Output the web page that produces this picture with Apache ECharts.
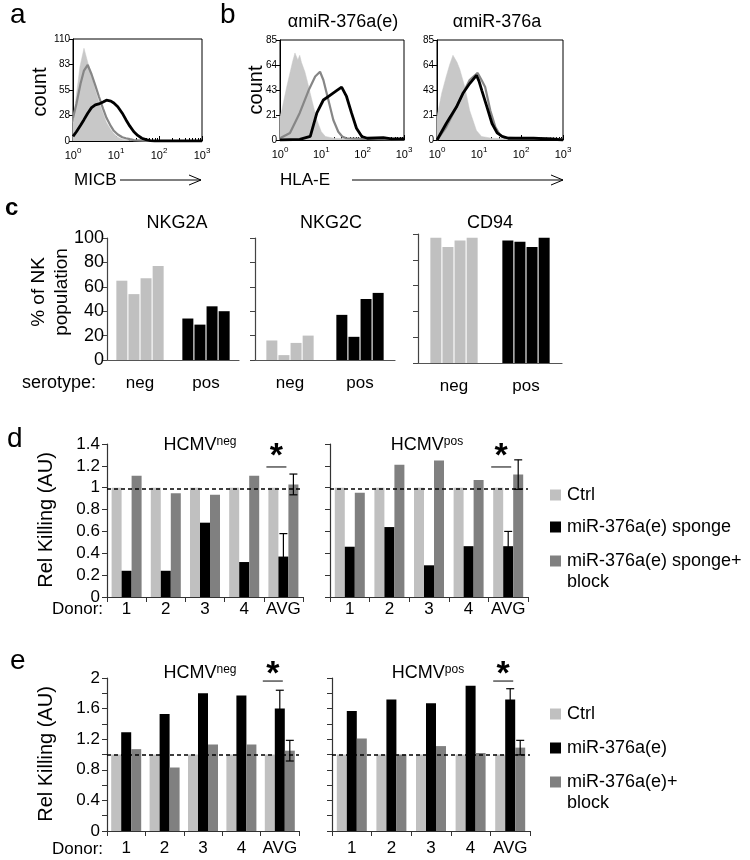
<!DOCTYPE html>
<html><head><meta charset="utf-8">
<script src="https://cdn.jsdelivr.net/npm/echarts@6/dist/echarts.min.js"></script>
<style>html,body{margin:0;padding:0;background:#fff}#c{width:750px;height:860px}</style>
</head><body><div id="c"></div><script>
const FONT = '"Liberation Sans", Arial, Helvetica, sans-serif';
const C_LIGHT = '#c0c0c0', C_MID = '#808080', C_BLACK = '#000000';
const H_FILL = '#c8c8c8', H_GRAY = '#868686';

// ---- Panel a: MICB histograms  [fluorescence, count]
const aIso   = [[1,20],[1.2,50],[1.45,80],[1.8,100],[2.2,85],[2.7,70],[3.3,55],[4,42],[5,30],[6,20],[7.6,12],[8.9,8],[11,4],[14,2],[21,0.5],[32,0],[1000,0]];
const aGray  = [[1,25],[1.2,40],[1.5,62],[1.8,76],[2.2,82],[2.7,72],[3.3,60],[4,48],[5,35],[6,25],[7.6,16],[8.9,11],[11,7],[14,4],[17,3],[21,2],[26,1],[40,0.5],[63,0],[1000,0]];
const aBlack = [[1,5],[1.2,10],[1.5,17],[1.8,23],[2.2,30],[2.7,36],[3.3,39],[4,40],[5,42],[6,44],[7.6,43],[8.9,41],[11,37],[14,30],[17,23],[21,16],[26,10],[32,6],[40,3],[50,1.5],[63,0.5],[80,0],[1000,0]];
// ---- Panel b: HLA-E histograms
const b1Iso   = [[1,20],[1.1,25],[1.45,45],[1.74,57],[2,66],[2.3,74],[2.7,68],[3,72],[3.3,66],[4,58],[4.5,51],[5.9,34],[7.8,17],[10,7],[12.6,3],[20,1.5],[100,1],[316,0.5],[1000,0]];
const b1Gray  = [[1,1.5],[1.74,6],[3,23],[4.9,42],[7.1,54],[9.3,58],[11.2,51],[14.8,34],[19.5,17],[25.7,7],[32,3],[40,1.5],[100,1],[1000,0.5]];
const b1Black = [[1,0],[3,0.5],[5.4,3],[7.8,23],[11.2,34],[16.2,38],[23.4,42],[31,45],[40.7,37],[53.7,23],[70.8,10],[95.5,3],[130,1.5],[316,2],[500,1],[1000,1]];
const b2Iso   = [[1,20],[1.3,40],[1.66,54],[2,64],[2.4,72],[3,66],[3.5,60],[4.6,45],[6,25],[8.7,8],[11.5,3],[20,1.5],[100,1],[400,1],[1000,0]];
const b2Gray  = [[1,0],[1.66,11],[2.9,28],[4.2,40],[6,51],[9.3,57],[11.5,51],[14,45],[18.6,25],[24.5,11],[32,4],[40,2],[100,1.5],[500,1.5],[1000,0.5]];
const b2Black = [[1,0],[1.66,14],[2.9,28],[4.2,40],[6,48],[8.7,55],[10,50],[11.7,42],[15.5,28],[20.4,14],[27,6],[35.5,3],[50,1.5],[200,1.5],[460,1],[1000,0]];
const histYMaxA = 110, histYMaxB = 85;

// ---- Panel c: % of NK population
const serotypes = ['neg', 'pos'];
const nkg2aNeg = [65, 54, 67, 77], nkg2aPos = [34, 29, 44, 40];
const nkg2cNeg = [16, 4, 14, 20],  nkg2cPos = [37, 19, 50, 55];
const cd94Neg  = [97, 90, 95, 97], cd94Pos  = [95, 94, 90, 97];
const cTitles = ['NKG2A', 'NKG2C', 'CD94'];

// ---- Panel d: Rel Killing, sponge
const donors = ['1', '2', '3', '4', 'AVG'];
const dNames = ['Ctrl', 'miR-376a(e) sponge', 'miR-376a(e) sponge+\nblock'];
const dNegCtrl = [1, 1, 1, 1, 1], dNegSponge = [0.24, 0.24, 0.68, 0.32, 0.37], dNegBlock = [1.11, 0.95, 0.935, 1.11, 1.03];
const dNegSpongeSd = [null, null, null, null, 0.21], dNegBlockSd = [null, null, null, null, 0.095];
const dPosCtrl = [1, 1, 1, 1, 1], dPosSponge = [0.46, 0.64, 0.29, 0.465, 0.465], dPosBlock = [0.955, 1.21, 1.25, 1.07, 1.12];
const dPosSpongeSd = [null, null, null, null, 0.135], dPosBlockSd = [null, null, null, null, 0.135];
// ---- Panel e: Rel Killing, miR-376a(e)
const eNames = ['Ctrl', 'miR-376a(e)', 'miR-376a(e)+\nblock'];
const eNegCtrl = [1, 1, 1, 1, 1], eNegMir = [1.29, 1.53, 1.80, 1.77, 1.60], eNegBlock = [1.07, 0.83, 1.13, 1.13, 1.05];
const eNegMirSd = [null, null, null, null, 0.24], eNegBlockSd = [null, null, null, null, 0.135];
const ePosCtrl = [1, 1, 1, 1, 1], ePosMir = [1.57, 1.72, 1.67, 1.90, 1.72], ePosBlock = [1.21, 1.0, 1.11, 1.02, 1.09];
const ePosMirSd = [null, null, null, null, 0.14], ePosBlockSd = [null, null, null, null, 0.095];

// ================= build option =================
const grids = [
  {left: 73, top: 39, width: 129, height: 102},   // 0 a
  {left: 280, top: 40, width: 124, height: 100},  // 1 b1
  {left: 437, top: 40, width: 126, height: 100},  // 2 b2
  {left: 107, top: 238, width: 132, height: 122}, // 3 c NKG2A
  {left: 255, top: 238, width: 140, height: 122}, // 4 c NKG2C
  {left: 418, top: 234, width: 144, height: 129}, // 5 c CD94
  {left: 107, top: 444, width: 196, height: 153}, // 6 d neg
  {left: 330, top: 444, width: 198, height: 153}, // 7 d pos
  {left: 107, top: 678, width: 192, height: 153}, // 8 e neg
  {left: 332, top: 678, width: 198, height: 153}  // 9 e pos
].map((g, i) => Object.assign({containLabel: false}, g, i < 3 ? {show: true, borderColor: '#000', borderWidth: 1, backgroundColor: 'transparent'} : {}));

const xAxes = [], yAxes = [], series = [];

function histAxes(gi, ymax) {
  xAxes.push({type: 'log', logBase: 10, min: 1, max: 1000, gridIndex: gi,
    axisLine: {show: true, lineStyle: {color: '#000', width: 1}},
    axisTick: {show: true, inside: true, length: 5, lineStyle: {color: '#000'}},
    minorTick: {show: true, splitNumber: 9, length: 3, lineStyle: {color: '#000'}},
    splitLine: {show: false}, minorSplitLine: {show: false},
    axisLabel: {margin: 6, color: '#000', fontFamily: FONT, fontSize: 11,
      formatter: v => '{n|10}{s|' + Math.round(Math.log10(v)) + '}',
      rich: {n: {fontSize: 11, fontFamily: FONT, color: '#000', verticalAlign: 'bottom'},
             s: {fontSize: 8, fontFamily: FONT, color: '#000', verticalAlign: 'top', padding: [0, 0, 6, 0]}}}
  });
  yAxes.push({type: 'value', gridIndex: gi, min: 0, max: ymax, interval: ymax / 4,
    axisLine: {show: true, lineStyle: {color: '#000'}},
    axisTick: {show: true, length: 4, lineStyle: {color: '#000'}},
    axisLabel: {fontSize: 10, margin: 3, color: '#000', fontFamily: FONT, formatter: v => String(Math.round(v))},
    splitLine: {show: false}});
}
function histSeries(gi, iso, gray, black) {
  series.push({type: 'line', xAxisIndex: gi, yAxisIndex: gi, data: iso, showSymbol: false, z: 1,
    lineStyle: {width: 0.5, color: H_FILL}, areaStyle: {color: H_FILL, opacity: 1}});
  series.push({type: 'line', xAxisIndex: gi, yAxisIndex: gi, data: gray, showSymbol: false, z: 2,
    lineStyle: {width: 2.2, color: H_GRAY}});
  series.push({type: 'line', xAxisIndex: gi, yAxisIndex: gi, data: black, showSymbol: false, z: 3,
    lineStyle: {width: 2.8, color: '#000'}});
}
histAxes(0, histYMaxA); histSeries(0, aIso, aGray, aBlack);
histAxes(1, histYMaxB); histSeries(1, b1Iso, b1Gray, b1Black);
histAxes(2, histYMaxB); histSeries(2, b2Iso, b2Gray, b2Black);

// ---- panel c
const cData = [[nkg2aNeg, nkg2aPos], [nkg2cNeg, nkg2cPos], [cd94Neg, cd94Pos]];
cData.forEach((pair, k) => {
  const gi = 3 + k;
  xAxes.push({type: 'category', gridIndex: gi, data: serotypes,
    axisLine: {show: true, lineStyle: {color: '#555', width: 1.2}}, axisTick: {show: false},
    axisLabel: {interval: 0, fontSize: 17, margin: 15, color: '#000', fontFamily: FONT}});
  yAxes.push({type: 'value', gridIndex: gi, min: 0, max: 100, interval: 20,
    axisLine: {show: true, lineStyle: {color: '#444', width: 1.2}},
    axisTick: {show: true, length: 5, lineStyle: {color: '#444'}},
    axisLabel: {show: k === 0, fontSize: 18, margin: 3, color: '#000', fontFamily: FONT},
    splitLine: {show: false}});
  for (let d = 0; d < 4; d++) {
    series.push({type: 'bar', xAxisIndex: gi, yAxisIndex: gi, barWidth: 11, barGap: '10%',
      data: [{value: pair[0][d], itemStyle: {color: C_LIGHT}}, {value: pair[1][d], itemStyle: {color: C_BLACK}}]});
  }
});

// ---- panels d, e
function killAxes(gi, ymax, labelStep, showLabels, labelMargin) {
  xAxes.push({type: 'category', gridIndex: gi, data: donors,
    axisLine: {show: true, lineStyle: {color: '#333', width: 1.2}},
    axisTick: {show: true, length: 5, alignWithLabel: false, interval: 0, lineStyle: {color: '#333'}},
    axisLabel: {interval: 0, fontSize: 17, margin: labelMargin, color: '#000', fontFamily: FONT}});
  yAxes.push({type: 'value', gridIndex: gi, min: 0, max: ymax, interval: 0.2,
    axisLine: {show: true, lineStyle: {color: '#333', width: 1.2}},
    axisTick: {show: true, length: 5, lineStyle: {color: '#333'}},
    axisLabel: {show: showLabels, fontSize: 17, margin: 7, color: '#000', fontFamily: FONT,
      formatter: v => { const r = v / labelStep; return Math.abs(r - Math.round(r)) < 1e-6 ? String(+v.toFixed(2)) : ''; }},
    splitLine: {show: false}});
}
function killSeries(gi, names, ctrl, mir, block, ref) {
  series.push({type: 'bar', name: names[0], xAxisIndex: gi, yAxisIndex: gi, data: ctrl, barWidth: 10, barGap: '0%',
    itemStyle: {color: C_LIGHT},
    markLine: {silent: true, symbol: ['none', 'none'], label: {show: false}, z: 6,
      lineStyle: {type: [4, 3], color: '#000', width: 1.5}, data: [{yAxis: ref}]}});
  series.push({type: 'bar', name: names[1], xAxisIndex: gi, yAxisIndex: gi, data: mir, barWidth: 10, barGap: '0%', itemStyle: {color: C_BLACK}});
  series.push({type: 'bar', name: names[2], xAxisIndex: gi, yAxisIndex: gi, data: block, barWidth: 10, barGap: '0%', itemStyle: {color: C_MID}});
}
function errSeries(gi, means, sds, offset) {
  series.push({type: 'custom', xAxisIndex: gi, yAxisIndex: gi, z: 10, clip: false,
    data: means.map((m, i) => sds[i] == null ? null : [i, m, sds[i]]).filter(Boolean),
    renderItem: (p, api) => {
      const x = api.value(0), m = api.value(1), s = api.value(2);
      const t = api.coord([x, m + s]), b = api.coord([x, m - s]);
      const cx = t[0] + offset, st = {stroke: '#000', lineWidth: 1.2};
      return {type: 'group', children: [
        {type: 'line', shape: {x1: cx, y1: t[1], x2: cx, y2: b[1]}, style: st},
        {type: 'line', shape: {x1: cx - 4, y1: t[1], x2: cx + 4, y2: t[1]}, style: st},
        {type: 'line', shape: {x1: cx - 4, y1: b[1], x2: cx + 4, y2: b[1]}, style: st}]};
    }});
}
function sigSeries(gi, lineVal, starGap) {
  series.push({type: 'custom', xAxisIndex: gi, yAxisIndex: gi, z: 10, clip: false, data: [[donors.length - 1, lineVal]],
    renderItem: (p, api) => {
      const c = api.coord([api.value(0), api.value(1)]);
      const cx = c[0] - 7;
      return {type: 'group', children: [
        {type: 'line', shape: {x1: cx - 10, y1: c[1], x2: cx + 10, y2: c[1]}, style: {stroke: '#555', lineWidth: 1.5}},
        {type: 'text', x: cx, y: c[1] - starGap, style: {text: '*', font: 'bold 34px ' + FONT, fill: '#000', align: 'center', verticalAlign: 'middle'}}]};
    }});
}
killAxes(6, 1.4, 0.2, true, 4);  killSeries(6, dNames, dNegCtrl, dNegSponge, dNegBlock, 0.99);
errSeries(6, dNegSponge, dNegSpongeSd, 0); errSeries(6, dNegBlock, dNegBlockSd, 10); sigSeries(6, 1.19, 10);
killAxes(7, 1.4, 0.2, false, 4); killSeries(7, dNames, dPosCtrl, dPosSponge, dPosBlock, 0.99);
errSeries(7, dPosSponge, dPosSpongeSd, 0); errSeries(7, dPosBlock, dPosBlockSd, 10); sigSeries(7, 1.19, 10);
killAxes(8, 2, 0.4, true, 9);    killSeries(8, eNames, eNegCtrl, eNegMir, eNegBlock, 1.0);
errSeries(8, eNegMir, eNegMirSd, 0); errSeries(8, eNegBlock, eNegBlockSd, 10); sigSeries(8, 1.96, 6);
killAxes(9, 2, 0.4, false, 9);   killSeries(9, eNames, ePosCtrl, ePosMir, ePosBlock, 1.0);
errSeries(9, ePosMir, ePosMirSd, 0); errSeries(9, ePosBlock, ePosBlockSd, 10); sigSeries(9, 1.96, 6);

// ---- text / annotations
function txt(x, y, text, size, extra) {
  return Object.assign({type: 'text', x: x, y: y, silent: true,
    style: Object.assign({text: text, font: size + 'px ' + FONT, fill: '#000', align: 'left', verticalAlign: 'middle'}, (extra && extra.style) || {})},
    extra && extra.el || {});
}
const supRich = {b: {fontSize: 18, fontFamily: FONT, fill: '#000', verticalAlign: 'bottom'},
                 s: {fontSize: 12, fontFamily: FONT, fill: '#000', verticalAlign: 'top', padding: [0, 0, 5, 0]}};
function hcmv(x, y, sup) {
  return {type: 'text', x: x, y: y, silent: true, style: {text: '{b|HCMV}{s|' + sup + '}', rich: supRich, align: 'center', verticalAlign: 'middle'}};
}
function legendRows(x, ys, colors, names) {
  const out = [];
  names.forEach((n, i) => {
    out.push({type: 'rect', shape: {x: x, y: ys[i] - 5.5, width: 11, height: 11}, style: {fill: colors[i]}, silent: true});
    out.push({type: 'text', x: x + 17, y: ys[i] - 10.5, silent: true,
      style: {text: n, font: '18px ' + FONT, fill: '#000', align: 'left', verticalAlign: 'top', lineHeight: 21}});
  });
  return out;
}
function arrow(x1, x2, y) {
  return [
    {type: 'line', shape: {x1: x1, y1: y, x2: x2, y2: y}, style: {stroke: '#000', lineWidth: 1}, silent: true},
    {type: 'polyline', shape: {points: [[x2 - 12, y - 5], [x2, y], [x2 - 12, y + 5]]}, style: {stroke: '#000', lineWidth: 1, fill: null}, silent: true}
  ];
}
const graphics = [
  txt(10, 15, 'a', 28), txt(220, 15, 'b', 28),
  txt(5, 208, 'c', 24, {style: {font: 'bold 24px ' + FONT}}),
  txt(7, 439, 'd', 28), txt(10, 661, 'e', 28),
  txt(40, 92, 'count', 20, {style: {align: 'center'}, el: {rotation: Math.PI / 2}}),
  txt(256, 90, 'count', 20, {style: {align: 'center'}, el: {rotation: Math.PI / 2}}),
  txt(74, 180, 'MICB', 17), ...arrow(120, 201, 180),
  txt(280, 180, 'HLA-E', 17), ...arrow(352, 563, 180),
  txt(343, 22, 'αmiR-376a(e)', 18, {style: {align: 'center'}}),
  txt(497, 22, 'αmiR-376a', 18, {style: {align: 'center'}}),
  txt(177, 223, cTitles[0], 18, {style: {align: 'center'}}),
  txt(331, 223, cTitles[1], 18, {style: {align: 'center'}}),
  txt(490, 223, cTitles[2], 18, {style: {align: 'center'}}),
  txt(39, 292, '% of NK', 19, {style: {align: 'center'}, el: {rotation: Math.PI / 2}}),
  txt(62, 292, 'population', 19, {style: {align: 'center'}, el: {rotation: Math.PI / 2}}),
  txt(22, 383, 'serotype:', 18),
  txt(46, 520, 'Rel Killing (AU)', 20, {style: {align: 'center'}, el: {rotation: Math.PI / 2}}),
  txt(46, 754, 'Rel Killing (AU)', 20, {style: {align: 'center'}, el: {rotation: Math.PI / 2}}),
  txt(52, 609, 'Donor:', 17), txt(52, 849, 'Donor:', 17),
  hcmv(200, 445, 'neg'), hcmv(427, 445, 'pos'), hcmv(200, 673, 'neg'), hcmv(428, 673, 'pos'),
  ...legendRows(550, [495, 527, 561], [C_LIGHT, C_BLACK, C_MID], dNames),
  ...legendRows(550, [714, 748, 782], [C_LIGHT, C_BLACK, C_MID], eNames)
];

const chart = echarts.init(document.getElementById('c'), null, {renderer: 'canvas', width: 750, height: 860});
chart.setOption({
  animation: false, backgroundColor: '#fff',
  textStyle: {fontFamily: FONT},
  grid: grids, xAxis: xAxes, yAxis: yAxes, series: series, graphic: graphics
});
</script></body></html>
